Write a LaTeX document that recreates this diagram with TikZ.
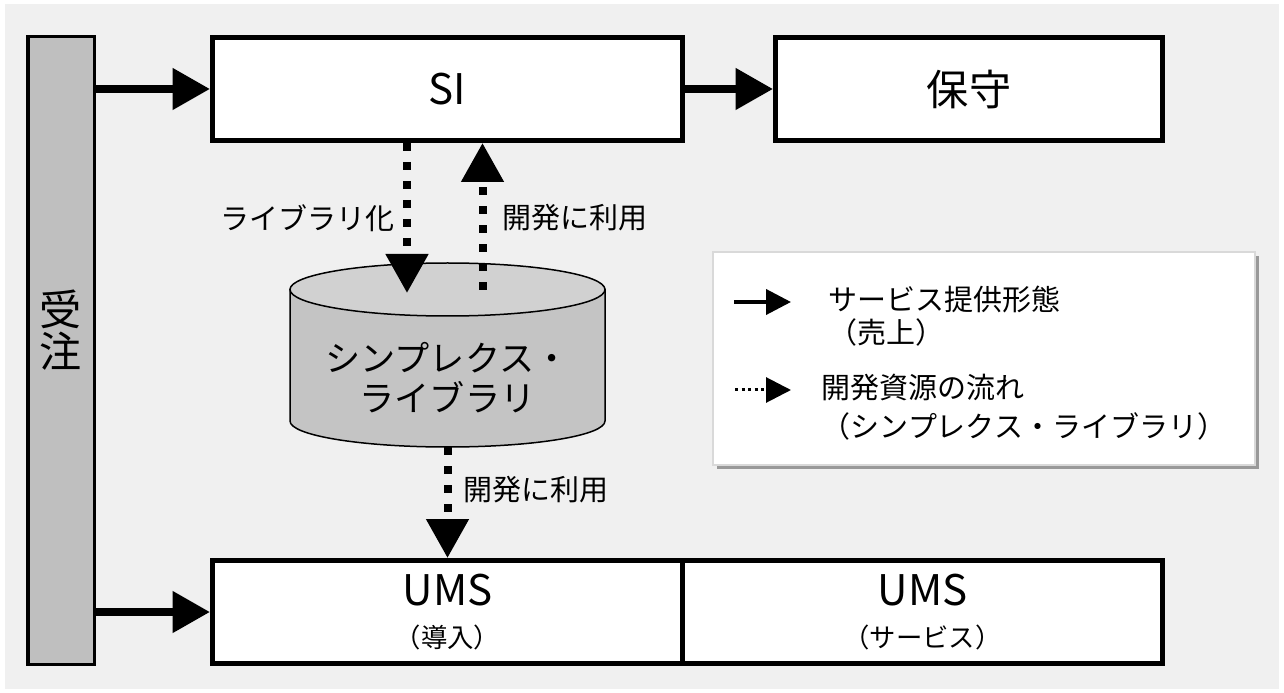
\documentclass[tikz,border=0pt]{standalone}
\usepackage{fontspec}
\setmainfont{Noto Sans CJK JP}
\usetikzlibrary{arrows.meta}

\begin{document}
\begin{tikzpicture}[line width = 1pt,
    box/.style = {draw, line width = 0.1cm, fill = white, minimum width = 9.4cm,
                  minimum height = 2.06cm, inner sep = 0pt, font = \fontsize{24}{26}\selectfont},
    flow/.style = {line width = 0.16cm, -{Triangle[length = 0.75cm, width = 0.8cm]}},
    devflow/.style = {line width = 0.16cm, dash pattern = on 0.16cm off 0.22cm,
                      -{Triangle[length = 0.78cm, width = 0.82cm]}},
    keytip/.style = {-{Triangle[length = 0.5cm, width = 0.5cm]}},
    lbl/.style = {font = \fontsize{16.5}{19}\selectfont, inner sep = 0pt}]
  \useasboundingbox (0, 0) rectangle (25.68, -13.86);
  \fill [black!6] (0.1, -0.08) rectangle (25.58, -13.78);

  % boxes
  \node [box, fill = black!25, line width = 0.07cm, minimum width = 1.33cm, minimum height = 12.55cm,
         label = {[yshift = 0.4cm, align = center, font = \fontsize{24}{24}\selectfont]center:受\\注}]
        (juchu) at (1.22, -7.01) {};
  \node [box] (si) at (8.95, -1.78) {SI};
  \node [box, minimum width = 7.74cm] (hoshu) at (19.38, -1.78) {保守};
  \node [box, align = center] (umsA) at (8.95, -12.24)
        {UMS\\[-2pt]{\fontsize{15}{17}\selectfont （導入）}};
  \node [box, align = center, minimum width = 9.6cm] (umsB) at (18.45, -12.24)
        {UMS\\[-2pt]{\fontsize{15}{17}\selectfont （サービス）}};

  % library
  \filldraw [fill = black!23, line width = 0.03cm]
        (5.8, -5.79) -- (5.8, -8.42) arc [start angle = 180, end angle = 360, x radius = 3.15, y radius = 0.52]
        -- (12.1, -5.79) -- cycle;
  \filldraw [fill = black!18, line width = 0.03cm] (8.95, -5.79) ellipse [x radius = 3.15, y radius = 0.53];
  \coordinate (libtop) at (8.95, -5.79);
  \coordinate (libbot) at (8.95, -8.94);
  \node [align = center, font = \fontsize{20}{22.5}\selectfont] (lib) at (8.95, -7.55)
        {シンプレクス・\\ライブラリ};

  % flows
  \draw [flow] (juchu.east |- si.west) -- (si.west);
  \draw [flow] (juchu.east |- umsA.west) -- (umsA.west);
  \draw [flow] (si.east) -- (hoshu.west);

  \draw [devflow] ([xshift = -0.81cm]si.south) -- ([xshift = -0.81cm, yshift = -0.07cm]libtop);
  \draw [devflow] ([xshift = 0.7cm, yshift = -0.01cm]libtop) -- ([xshift = 0.7cm]si.south);
  \draw [devflow] (libbot) -- (umsA.north);

  \node [lbl, anchor = east] (tolib) at (7.9, -4.36) {ライブラリ化};
  \node [lbl, anchor = west] (usesi) at (10.04, -4.36) {開発に利用};
  \node [lbl, anchor = west] (useums) at (9.26, -9.8) {開発に利用};

  % legend
  \fill [black!40] (14.34, -5.12) rectangle (25.18, -9.38);
  \draw [fill = white, draw = black!15] (14.26, -5.04) rectangle (25.1, -9.3);
  \coordinate (s1) at (14.68, -6.04);
  \coordinate (e1) at (15.82, -6.04);
  \coordinate (s2) at (14.7, -7.8);
  \coordinate (e2) at (15.82, -7.8);
  \draw [keytip, line width = 0.08cm] (s1) -- (e1);
  \draw [keytip, line width = 0.06cm, dash pattern = on 0.06cm off 0.07cm] (s2) -- (e2);
  \node [lbl, anchor = west, align = left] (key1) at (16.56, -6.32)
        {サービス提供形態\\（売上）};
  \node [lbl, anchor = west, align = left] (key2) at (16.42, -8.15)
        {開発資源の流れ\\[3pt]（シンプレクス・ライブラリ）};
\end{tikzpicture}
\end{document}
